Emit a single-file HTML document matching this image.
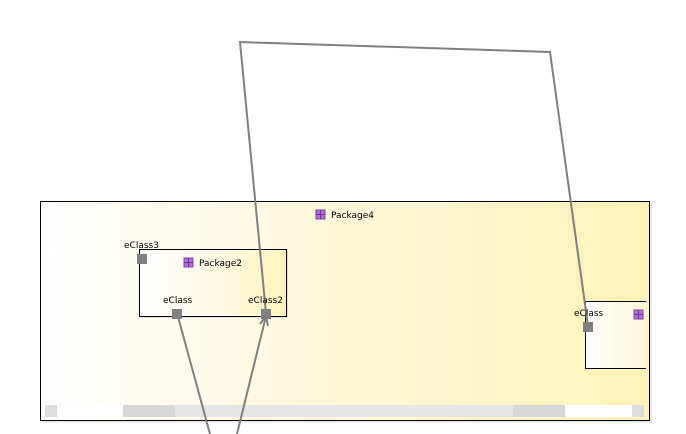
<!DOCTYPE html>
<html><head><style>
body{margin:0;width:686px;height:434px;background:#fff;overflow:hidden;position:relative;font-family:"DejaVu Sans","Liberation Sans",sans-serif;font-size:9px;}
.abs{position:absolute}
</style></head><body>
<div class="abs" style="left:42px;top:203px;width:610px;height:220px;background:#ddd;opacity:.6"></div>
<div class="abs" style="left:40px;top:201px;width:608px;height:218px;border:1px solid #000;background:linear-gradient(to right,#fff 0%,#fff7dc 45%,#fff2b8 100%)"></div>
<div class="abs" style="left:45px;top:405px;width:599px;height:12px;background:#e6e6e6"></div>
<div class="abs" style="left:45px;top:405px;width:12px;height:12px;background:#ddd"></div>
<div class="abs" style="left:57px;top:405px;width:66px;height:12px;background:#fff"></div>
<div class="abs" style="left:123px;top:405px;width:52px;height:12px;background:#d8d8d8"></div>
<div class="abs" style="left:513px;top:405px;width:52px;height:12px;background:#d8d8d8"></div>
<div class="abs" style="left:565px;top:405px;width:67px;height:12px;background:#fff"></div>
<div class="abs" style="left:632px;top:405px;width:12px;height:12px;background:#ddd"></div>
<div class="abs" style="left:141px;top:251px;width:147px;height:67px;background:#ccc;opacity:.6"></div>
<div class="abs" style="left:139px;top:249px;width:146px;height:66px;border:1px solid #000;background:linear-gradient(to right,#fff 0%,#fff8e0 60%,#fff2b8 100%)"></div>
<div class="abs" style="left:585px;top:301px;width:60px;height:66px;border:1px solid #000;border-right:none;background:linear-gradient(to right,#fff,#fff6d8)"></div>
<svg class="abs" style="left:0;top:0" width="686" height="434">
<defs><g id="ic"><rect x="0" y="0" width="9" height="9" fill="#b070d0" stroke="#8040a0"/><path d="M4.5 0V9M0 4.5H9" stroke="#7030a0"/></g></defs>
<use href="#ic" x="316" y="210"/><use href="#ic" x="184" y="258"/><use href="#ic" x="634" y="310"/>
<rect x="137" y="254" width="10" height="10" fill="#808080"/>
<rect x="172" y="309" width="10" height="10" fill="#808080"/>
<rect x="261" y="309" width="10" height="10" fill="#808080"/>
<rect x="583" y="322" width="10" height="10" fill="#808080"/>
<g stroke="#808080" stroke-width="2" fill="none">
<polyline points="266,313 240,42 550,52 588,326"/>
<line x1="177" y1="313" x2="210" y2="434"/>
<line x1="237" y1="434" x2="266" y2="316"/>
<polyline points="260,324 266,316 268,326"/>
</g>
<g font-size="9" fill="#000" font-family="DejaVu Sans,Liberation Sans,sans-serif">
<text x="331" y="218">Package4</text>
<text x="199" y="266">Package2</text>
<text x="124" y="248">eClass3</text>
<text x="163" y="303">eClass</text>
<text x="248" y="303">eClass2</text>
<text x="574" y="316">eClass</text>
</g>
</svg>
</body></html>
